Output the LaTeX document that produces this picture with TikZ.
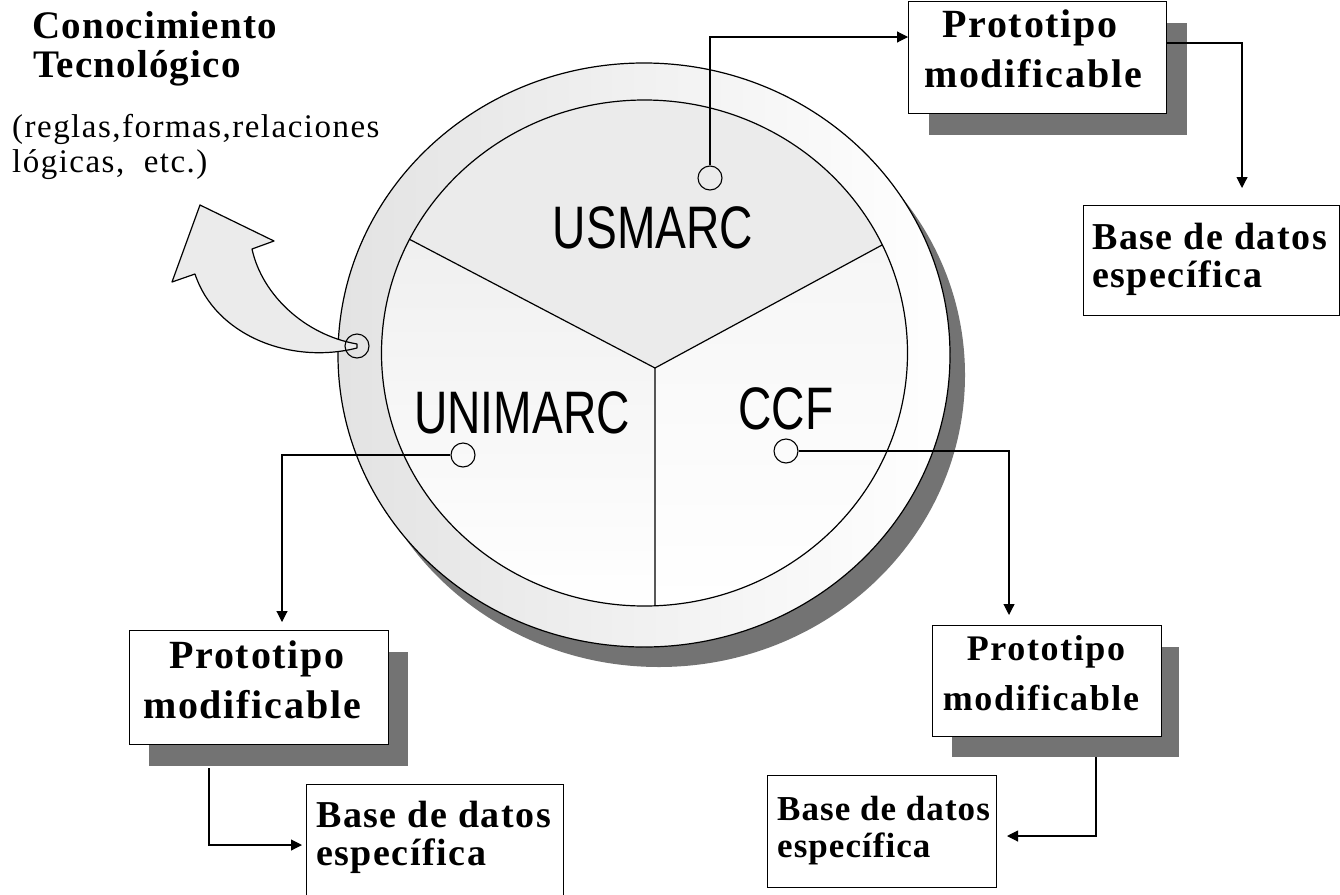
\documentclass[tikz,border=0pt]{standalone}
\usepackage{fontspec}
\setmainfont{Liberation Serif}
\newfontfamily\narrowsans[FakeStretch=0.77]{Liberation Sans}
\usetikzlibrary{arrows.meta,calc}
\newcommand\protofont{\fontsize{40}{40}\selectfont\bfseries\addfontfeature{LetterSpace=4.5}}
\newcommand\protofontS{\fontsize{36}{36}\selectfont\bfseries\addfontfeature{LetterSpace=4.5}}
\newcommand\basefont{\fontsize{38}{38}\selectfont\bfseries\addfontfeature{LetterSpace=4}}
\newcommand\basefontS{\fontsize{35}{37}\selectfont\bfseries\addfontfeature{LetterSpace=3}}
\newcommand\conofont{\fontsize{39}{39}\selectfont\bfseries\addfontfeature{LetterSpace=3}}
\newcommand\notefont{\fontsize{33}{33}\selectfont\addfontfeature{LetterSpace=4.5}}
\definecolor{shadowgray}{gray}{0.45}
\tikzset{
  ring/.style={line width=1.2pt},
  dotnode/.style={circle, draw, line width=1.1pt, minimum size=24pt, inner sep=0pt},
  boxnode/.style={draw, fill=white, line width=1.1pt, inner sep=0pt, anchor=north west},
  boxshadow/.style={fill=shadowgray},
  txt/.style={inner sep=0pt, anchor=base, text height=20pt, text depth=2pt},
  txtw/.style={inner sep=0pt, anchor=base west, text height=20pt, text depth=2pt},
  basetxt/.style={inner sep=0pt, anchor=north west, align=left},
  seclabel/.style={inner sep=0pt, anchor=base, font=\narrowsans\fontsize{60}{60}\selectfont},
  conn/.style={line width=1.1pt, -{Triangle[length=11pt,width=11pt]}},
  bigarrow/.style={fill=gray!16, draw, line width=1.2pt, line join=round}
}
\begin{document}
\begin{tikzpicture}[x=1pt,y=-1pt]
\useasboundingbox (0,0) rectangle (1340,894);
\fill[white] (0,0) rectangle (1340,894);

% ---- big disc ----
\fill[shadowgray] (659,375) ellipse [x radius=306, y radius=292];
\fill[white] (644,355) ellipse [x radius=306, y radius=292];
\shade[left color=gray!22, right color=white, even odd rule]
  (644,355) ellipse [x radius=306, y radius=292]
  (644.5,353) ellipse [x radius=263, y radius=253];

\coordinate (C) at (644.5,353);
\coordinate (J) at (655,368);
\coordinate (L) at ($(C)+(206.7:263 and 253)$);
\coordinate (R) at ($(C)+(334.7:263 and 253)$);
\coordinate (B) at ($(C)+(87.7:263 and 253)$);

\fill[gray!16] (J) -- (L) arc[start angle=206.7, end angle=334.7, x radius=263, y radius=253] -- cycle;
\shade[top color=gray!12, bottom color=white] (J) -- (B) arc[start angle=87.7, end angle=206.7, x radius=263, y radius=253] -- cycle;
\shade[top color=gray!7, bottom color=white] (J) -- (R) arc[start angle=334.7, end angle=447.7, x radius=263, y radius=253] -- cycle;

\draw[ring] (644,355) ellipse [x radius=306, y radius=292];
\draw[ring] (C) ellipse [x radius=263, y radius=253];
\draw[ring] (J) -- (L);
\draw[ring] (J) -- (R);
\draw[ring] (J) -- (B);

\node[seclabel] (usmarc) at (653,248) {USMARC};
\node[seclabel] (unimarc) at (522,433) {UNIMARC};
\node[seclabel] (ccf) at (786,429) {CCF};

% ---- curved arrow ----
\path[bigarrow] (357,348) .. controls (290,365) and (215,335) .. (195,274)
  -- (172,282) -- (200,205) -- (274,241) -- (252,249)
  .. controls (262,295) and (305,335) .. (357,344) -- cycle;

% ---- small circles ----
\node[dotnode] (cL) at (357,346) {};
\node[dotnode] (cU) at (710,178) {};
\node[dotnode] (cUni) at (463,455) {};
\node[dotnode] (cC) at (786,451) {};

% ---- boxes ----
\fill[boxshadow] (929,23) rectangle (1187,135);
\node[boxnode, minimum width=258pt, minimum height=112pt] (pTR) at (908,1) {};
\node[boxnode, minimum width=256pt, minimum height=110pt] (bTR) at (1083,205) {};

\fill[boxshadow] (149,652) rectangle (408,766);
\node[boxnode, minimum width=259pt, minimum height=114pt] (pBL) at (129,630) {};
\node[boxnode, minimum width=257pt, minimum height=120pt] (bBL) at (306,784) {};

\fill[boxshadow] (952,647) rectangle (1179,757);
\node[boxnode, minimum width=229pt, minimum height=111pt] (pBR) at (932,625) {};
\node[boxnode, minimum width=229pt, minimum height=112pt] (bBR) at (767,775) {};

% ---- box texts ----
\node[txt] (pTR1) at (1030,37) {\protofont Prototipo};
\node[txt] (pTR2) at (1033,87) {\protofont modificable};
\node[basetxt, font=\basefont] (bTRt) at (1092,223.3) {Base de datos\\específica};

\node[txt] (pBL1) at (257,668) {\protofont Prototipo};
\node[txt] (pBL2) at (252,718) {\protofont modificable};
\node[basetxt, font=\basefont] (bBLt) at (316,801.3) {Base de datos\\específica};

\node[txt] (pBR1) at (1046,660) {\protofontS Prototipo};
\node[txt] (pBR2) at (1041,710) {\protofontS modificable};
\node[basetxt, font=\basefontS] (bBRt) at (777,796.3) {Base de datos\\específica};

% ---- top-left texts ----
\node[txtw] (t1) at (32,38) {\conofont Conocimiento};
\node[txtw] (t2) at (33,77) {\conofont Tecnológico};
\node[txtw] (t3) at (12,137) {\notefont (reglas,formas,relaciones};
\node[txtw] (t4) at (12,172) {\notefont lógicas,\ \ etc.)};

% ---- connectors ----
\coordinate (aTR) at (908,37);
\coordinate (sTR) at (1166,43);
\coordinate (tTR) at (1242,188);
\coordinate (tBL1) at (282,622);
\coordinate (sBL) at (209,768);
\coordinate (tBL2) at (302,845);
\coordinate (tBR1) at (1009,615);
\coordinate (sBR) at (1096,757);
\coordinate (tBR2) at (1007,836);

\draw[conn] (cU.north) |- (aTR);
\draw[conn] (sTR) -| (tTR);
\draw[conn] (cUni.west) -| (tBL1);
\draw[conn] (sBL) |- (tBL2);
\draw[conn] (cC.east) -| (tBR1);
\draw[conn] (sBR) |- (tBR2);
\end{tikzpicture}
\end{document}
